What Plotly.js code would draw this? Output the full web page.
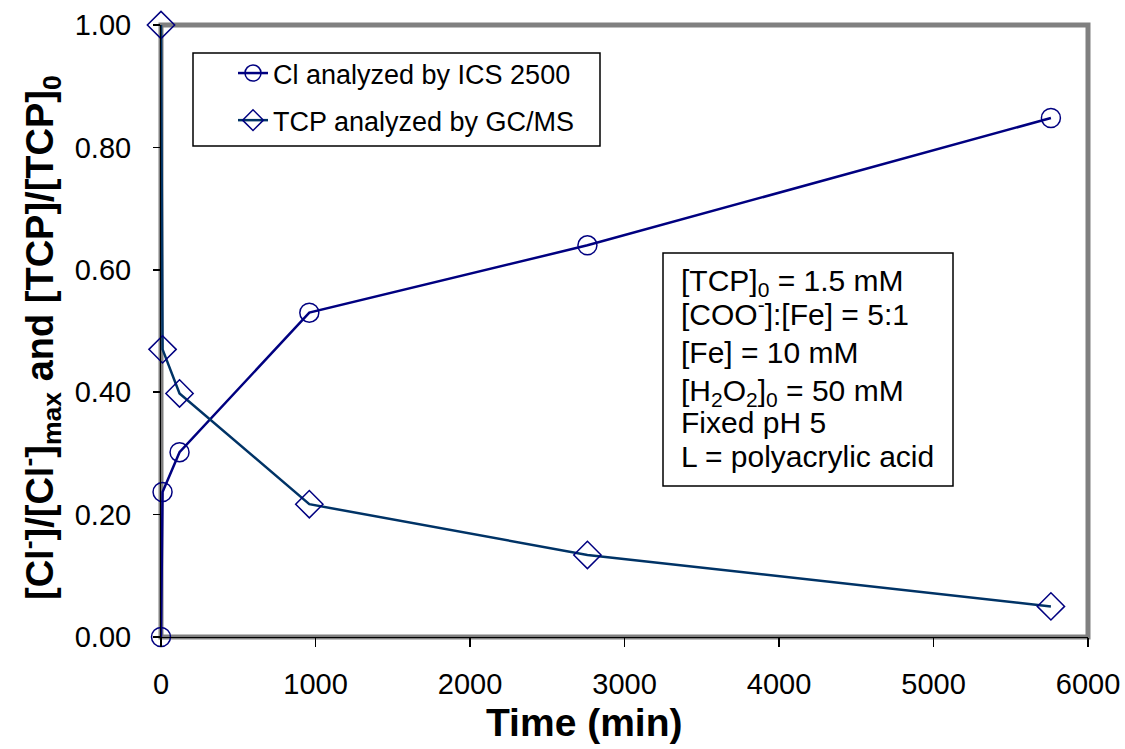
<!DOCTYPE html>
<html>
<head>
<meta charset="utf-8">
<script src="https://cdn.plot.ly/plotly-3.0.1.min.js"></script>
<style>
  html, body { margin: 0; padding: 0; background: #ffffff; }
  #chart { width: 1125px; height: 749px; }
</style>
</head>
<body>
<div id="chart"></div>
<script>
// Reaction time (min)
const timeCl  = [0, 10, 120, 960, 2760, 5760];
const timeTCP = [0, 10, 120, 960, 2760, 5760];
// Normalised chloride release [Cl-]/[Cl-]max
const clRatio  = [0.00, 0.237, 0.302, 0.530, 0.640, 0.848];
// Normalised TCP remaining [TCP]/[TCP]0
const tcpRatio = [1.00, 0.470, 0.398, 0.217, 0.134, 0.050];

const seriesNames = ['Cl analyzed by ICS 2500', 'TCP analyzed by GC/MS'];
const conditionLines = [
  '[TCP]<sub>0</sub> = 1.5 mM',
  '[COO<sup>-</sup>]:[Fe] = 5:1',
  '[Fe] = 10 mM',
  '[H<sub>2</sub>O<sub>2</sub>]<sub>0</sub> = 50 mM',
  'Fixed pH 5',
  'L = polyacrylic acid'
];
const xTicks = [0, 1000, 2000, 3000, 4000, 5000, 6000];
const yTicks = [0, 0.2, 0.4, 0.6, 0.8, 1.0];
const xTitle = '<b>Time (min)</b>';
const yTitle = '<b>[Cl<sup>-</sup>]/[Cl<sup>-</sup>]<sub>max</sub> and [TCP]/[TCP]<sub>0</sub></b>';

const FONT = 'Liberation Sans, Arial, sans-serif';

const traces = [
  {
    x: timeCl, y: clRatio, name: seriesNames[0],
    type: 'scatter', mode: 'lines+markers', cliponaxis: false,
    legendgroup: 'cl',
    line: { color: '#000080', width: 2.5 },
    marker: { symbol: 'circle-open', size: 19, color: '#000080', line: { color: '#000080', width: 1.5 } }
  },
  {
    x: timeTCP, y: tcpRatio, name: seriesNames[1],
    type: 'scatter', mode: 'lines+markers', cliponaxis: false,
    legendgroup: 'tcp',
    line: { color: '#003366', width: 2.5 },
    marker: { symbol: 'diamond-open', size: 21, color: '#000080', line: { color: '#000080', width: 1.5 } }
  }
];

// plot-area edges in page pixels and helpers to convert to paper fractions
const L = 161, R = 1088, T = 25, B = 637;
const W = R - L, H = B - T;
const px = v => (v - L) / W;
const py = v => (B - v) / H;

// vertical centres of the condition lines (sub/superscripts shift the box)
const conditionCenters = [283, 312, 352, 392, 422, 457];
const annotations = conditionLines.map((txt, i) => ({
  xref: 'paper', yref: 'paper',
  x: px(679), y: py(conditionCenters[i]),
  xanchor: 'left', yanchor: 'middle',
  text: txt, showarrow: false,
  font: { family: FONT, size: 30, color: '#000000' }
}));

// axis titles placed as annotations so their centres can be set freely
annotations.push({
  xref: 'paper', yref: 'paper', x: px(584), y: py(722),
  xanchor: 'center', yanchor: 'middle', showarrow: false,
  text: xTitle, font: { family: FONT, size: 39, color: '#000000' }
});
annotations.push({
  xref: 'paper', yref: 'paper', x: px(40), y: py(338),
  xanchor: 'center', yanchor: 'middle', showarrow: false, textangle: -90,
  text: yTitle, font: { family: FONT, size: 38, color: '#000000' }
});

const layout = {
  width: 1125, height: 749,
  paper_bgcolor: '#ffffff', plot_bgcolor: '#ffffff',
  margin: { l: L, r: 1125 - R, t: T, b: 749 - B, pad: 0 },
  showlegend: true,
  legend: {
    x: px(233), y: py(49), xanchor: 'left', yanchor: 'top',
    bgcolor: 'rgba(0,0,0,0)', borderwidth: 0,
    font: { family: FONT, size: 27, color: '#000000' },
    traceorder: 'grouped', tracegroupgap: 9,
    itemwidth: 30
  },
  xaxis: {
    range: [0, 6000], tickvals: xTicks, ticktext: xTicks.map(String),
    showgrid: false, zeroline: false,
    showline: true, linecolor: '#000000', linewidth: 1,
    ticks: 'outside', ticklen: 9, tickwidth: 1.5, tickcolor: '#000000',
    ticklabelstandoff: 12,
    tickfont: { family: FONT, size: 29, color: '#000000' }
  },
  yaxis: {
    range: [0, 1], tickvals: yTicks, ticktext: yTicks.map(v => v.toFixed(2)),
    showgrid: false, zeroline: false,
    showline: true, linecolor: '#000000', linewidth: 1,
    ticks: 'outside', ticklen: 7, tickwidth: 1.5, tickcolor: '#000000',
    ticklabelstandoff: 16,
    tickfont: { family: FONT, size: 29, color: '#000000' }
  },
  shapes: [
    // plot frame
    { type: 'rect', xref: 'paper', yref: 'paper', x0: 0, x1: 1, y0: 0, y1: 1,
      line: { color: '#808080', width: 5 }, layer: 'below' },
    // legend box
    { type: 'rect', xref: 'paper', yref: 'paper', x0: px(193), x1: px(600), y0: py(146), y1: py(53),
      line: { color: '#000000', width: 1.5 }, fillcolor: '#ffffff', layer: 'below' },
    // conditions box
    { type: 'rect', xref: 'paper', yref: 'paper', x0: px(663), x1: px(953), y0: py(486), y1: py(253),
      line: { color: '#000000', width: 1.5 }, fillcolor: '#ffffff', layer: 'below' }
  ],
  annotations: annotations
};

Plotly.newPlot('chart', traces, layout, { staticPlot: true, displayModeBar: false });
</script>
</body>
</html>
